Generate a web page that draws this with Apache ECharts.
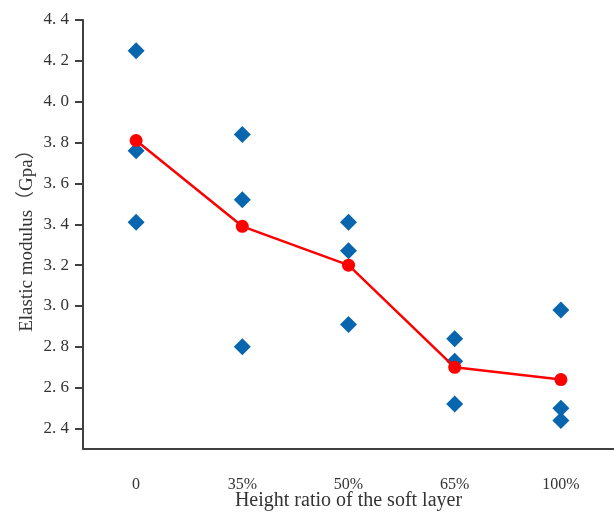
<!DOCTYPE html>
<html>
<head>
<meta charset="utf-8">
<script src="https://cdn.jsdelivr.net/npm/echarts@6/dist/echarts.min.js"></script>
<style>
  html, body { margin: 0; padding: 0; background: #fff; }
  #myEcharts { width: 614px; height: 512px; }
</style>
</head>
<body>
<div id="myEcharts"></div>
<script>
// categories on the x axis
const categories = ['0', '35%', '50%', '65%', '100%'];
// measured samples per height ratio
const ratio0 = [4.25, 3.76, 3.41];
const ratio35 = [3.84, 3.52, 2.80];
const ratio50 = [3.41, 3.27, 2.91];
const ratio65 = [2.84, 2.73, 2.52];
const ratio100 = [2.98, 2.50, 2.44];
// averages (red line)
const meanValues = [3.81, 3.39, 3.20, 2.70, 2.64];
// y tick values
const yTickValues = [2.4, 2.6, 2.8, 3.0, 3.2, 3.4, 3.6, 3.8, 4.0, 4.2, 4.4];

const groups = [ratio0, ratio35, ratio50, ratio65, ratio100];
const scatterData = [];
groups.forEach(function (g, i) {
  g.forEach(function (v) { scatterData.push([i, v]); });
});

const axisColor = '#404040';
const textColor = '#333';
const serif = '"Liberation Serif", "Noto Sans CJK SC", serif';

let chart = echarts.init(document.getElementById('myEcharts'));
chart.setOption({
  animation: false,
  grid: { left: 83, right: 0, top: 20, bottom: 63, containLabel: false, outerBoundsMode: 'none' },
  xAxis: {
    type: 'category',
    data: categories,
    boundaryGap: true,
    name: 'Height ratio of the soft layer',
    nameLocation: 'middle',
    nameGap: 42,
    nameMoveOverlap: false,
    nameTextStyle: { fontFamily: serif, fontSize: 20, color: textColor },
    axisLine: { lineStyle: { color: axisColor, width: 2 } },
    axisTick: { alignWithLabel: true, length: 7, lineStyle: { color: axisColor, width: 2 } },
    axisLabel: { fontFamily: serif, fontSize: 16, color: textColor, margin: 28 },
    splitLine: { show: false }
  },
  yAxis: {
    type: 'value',
    min: 2.3,
    max: 4.4,
    name: 'Elastic modulus（Gpa）',
    nameLocation: 'middle',
    nameGap: 46,
    nameMoveOverlap: false,
    nameTextStyle: { fontFamily: serif, fontSize: 19, color: textColor, padding: [0, 3, 0, 0] },
    axisLine: { show: true, lineStyle: { color: axisColor, width: 2 } },
    axisTick: { show: true, length: 8, customValues: yTickValues, lineStyle: { color: axisColor, width: 2 } },
    axisLabel: {
      fontFamily: serif, fontSize: 17, color: textColor, margin: 14,
      customValues: yTickValues,
      formatter: function (v) { return v.toFixed(1).replace('.', '. '); }
    },
    splitLine: { show: false }
  },
  series: [
    {
      type: 'scatter',
      data: scatterData,
      symbol: 'diamond',
      symbolSize: 17,
      itemStyle: { color: '#0766AD', opacity: 1 }
    },
    {
      type: 'line',
      data: meanValues,
      symbol: 'circle',
      symbolSize: 13,
      lineStyle: { color: '#FF0000', width: 2.5 },
      itemStyle: { color: '#FF0000' }
    }
  ]
});
</script>
</body>
</html>
